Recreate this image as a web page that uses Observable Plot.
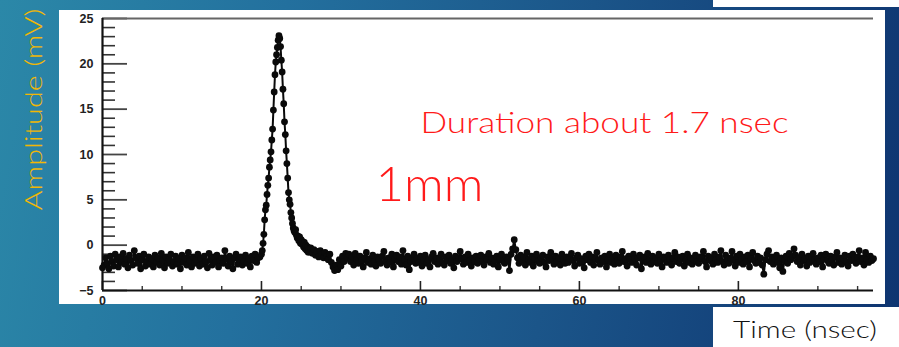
<!DOCTYPE html>
<html>
<head>
<meta charset="utf-8">
<script src="https://cdn.jsdelivr.net/npm/d3@7"></script>
<script src="https://cdn.jsdelivr.net/npm/@observablehq/plot@0.6"></script>
<style>
  html, body { margin: 0; padding: 0; }
  #wrap {
    position: relative; width: 899px; height: 347px; overflow: hidden;
    background: linear-gradient(100deg, #2b88a8 0%, #23709e 30%, #1b5589 62%, #0e3470 100%);
  }
  .box { position: absolute; background: #fff; }
  #chart { position: absolute; left: 0; top: 0; }
</style>
</head>
<body>
<div id="wrap">
  <div class="box" style="left:59px;top:10px;width:826px;height:294px"></div>
  <div class="box" style="left:713px;top:0;width:186px;height:7px"></div>
  <div class="box" style="left:713px;top:307px;width:186px;height:40px"></div>
  <div id="chart"></div>
</div>
<script>
// ---------------- data ----------------
const xTicks = [0, 20, 40, 60, 80];
const xMinor = [5, 10, 15, 25, 30, 35, 45, 50, 55, 65, 70, 75, 85, 90, 95];
const yTicks = [-5, 0, 5, 10, 15, 20, 25];
const yMinor = [-4, -3, -2, -1, 1, 2, 3, 4, 6, 7, 8, 9, 11, 12, 13, 14, 16, 17, 18, 19, 21, 22, 23, 24];
const xDomain = [0, 97];
const yDomain = [-5, 25];

// baseline before the pulse: t = 0.0 .. 19.8 ns, every 0.2 ns (mV)
const preStart = 0.0, preStep = 0.2;
const preMv = [
  -2.5,-2.2,-1.4,-2.0,-2.6,-1.2,-1.8,-2.3,-1.0,-1.6,
  -2.4,-1.3,-1.9,-0.9,-2.1,-1.5,-2.5,-1.1,-1.7,-2.2,
  -0.6,-1.4,-2.0,-1.2,-2.6,-1.6,-1.0,-2.3,-1.8,-1.3,
  -2.1,-1.5,-2.4,-1.1,-1.9,-1.4,-2.2,-0.9,-1.7,-2.5,
  -1.3,-2.0,-1.6,-1.0,-2.3,-1.8,-1.2,-2.1,-1.5,-2.6,
  -1.1,-1.9,-1.4,-2.2,-0.8,-1.7,-2.4,-1.3,-2.0,-1.6,
  -1.0,-2.3,-1.5,-2.1,-1.2,-1.8,-2.5,-0.9,-1.6,-2.2,
  -1.3,-1.9,-1.1,-2.4,-1.7,-1.4,-2.0,-0.6,-1.5,-2.3,
  -1.2,-1.8,-2.6,-1.4,-1.0,-2.1,-1.6,-1.3,-2.2,-1.8,
  -1.1,-2.0,-1.5,-2.4,-1.2,-1.7,-1.0,-1.9,-1.4,-1.3
];

// the pulse: t = 20.0 .. 26.0 ns, every 0.1 ns (mV)
const peakStart = 20.0, peakStep = 0.1;
const peakMv = [
  -1.0,-0.6, 0.2, 1.2, 2.8, 3.9, 4.4, 5.6, 6.6, 7.4,
   8.6, 9.4,10.3,11.6,12.8,14.9,16.9,18.8,20.2,21.0,
  21.8,22.6,23.1,22.8,21.9,20.4,19.1,17.2,15.6,13.6,
  12.2,10.4, 9.0, 7.4, 5.8, 5.0, 4.5, 3.6, 3.0, 2.4,
   1.9, 1.6, 1.4, 1.7, 1.1, 0.8, 1.0, 0.5, 0.9, 0.2,
   0.6, 0.1, 0.4,-0.2, 0.3,-0.4, 0.0,-0.6,-0.2,-0.8,
  -0.4
];

// baseline after the pulse: t = 26.2 .. 97.0 ns, every 0.2 ns (mV)
const postStart = 26.2, postStep = 0.2;
const postMv = [
  -0.3,-0.9,-0.5,-1.1,-0.7,-1.3,-0.6,-1.0,-1.4,-0.8,
  -1.2,-1.6,-1.0,-1.9,-2.4,-2.8,-2.2,-2.7,-1.6,-2.3,-1.2,-1.8,-0.9,-1.4,
  -1.0,-1.8,-1.3,-2.2,-0.9,-1.6,-2.0,-1.2,-1.7,-2.4,
  -1.4,-0.8,-1.9,-1.5,-2.1,-1.1,-1.8,-2.3,-1.3,-1.6,
  -2.0,-1.2,-0.7,-1.7,-2.2,-1.4,-1.9,-1.0,-2.4,-1.5,
  -1.1,-1.8,-1.3,-2.1,-0.6,-1.6,-2.2,-1.2,-2.7,-1.8,
  -1.4,-1.0,-2.0,-1.5,-1.9,-1.2,-2.3,-1.7,-1.1,-2.0,
  -1.6,-2.4,-1.3,-0.9,-1.8,-1.4,-2.1,-1.5,-1.0,-1.9,
  -2.2,-1.3,-1.7,-1.1,-2.0,-1.6,-2.5,-1.2,-1.8,-1.4,
  -0.7,-1.5,-2.1,-1.3,-1.9,-1.0,-1.7,-2.3,-1.4,-1.8,
  -1.2,-2.0,-1.5,-1.1,-1.8,-2.2,-1.3,-1.6,-0.9,-1.9,
  -1.4,-2.1,-1.7,-1.2,-2.4,-1.5,-1.0,-1.8,-2.0,-1.3,
  -1.6,-2.8,-1.0,-0.4, 0.6,-0.5,-1.4,-2.0,-1.1,-1.7,
  -1.3,-2.2,-0.8,-1.6,-1.9,-1.2,-2.3,-1.5,-1.0,-1.8,
  -2.0,-1.4,-1.1,-1.9,-2.4,-1.3,-1.7,-0.8,-1.5,-2.1,
  -1.2,-1.8,-1.4,-2.2,-1.0,-1.6,-2.0,-1.3,-1.9,-1.5,
  -0.9,-1.7,-2.3,-1.4,-1.1,-2.0,-1.5,-1.8,-2.5,-1.2,
  -1.6,-1.0,-1.9,-1.3,-2.2,-1.5,-0.8,-1.7,-2.1,-1.4,
  -1.8,-1.2,-2.4,-1.6,-1.0,-1.9,-1.4,-2.1,-1.1,-1.7,
  -2.0,-1.3,-0.7,-1.8,-1.5,-2.3,-1.2,-1.6,-1.9,-1.0,
  -1.5,-2.2,-1.4,-1.1,-2.6,-1.7,-1.3,-1.9,-0.9,-1.6,
  -2.1,-1.2,-1.8,-1.4,-2.0,-1.0,-1.7,-2.4,-1.3,-1.5,
  -1.9,-1.1,-1.6,-2.2,-1.4,-0.8,-1.8,-1.3,-2.0,-1.5,
  -1.2,-2.3,-1.7,-1.0,-1.9,-1.4,-2.1,-1.6,-1.1,-1.8,
  -2.0,-1.3,-1.5,-0.7,-1.8,-2.4,-1.2,-1.7,-1.4,-2.1,
  -1.0,-1.6,-1.9,-1.3,-0.6,-1.8,-2.2,-1.1,-1.5,-2.0,
  -1.4,-0.7,-1.7,-2.3,-1.2,-1.9,-1.0,-1.6,-2.1,-1.3,
  -1.8,-1.1,-2.4,-1.5,-0.8,-1.7,-2.0,-1.2,-1.9,-1.4,
  -2.2,-3.2,-1.6,-1.0,-0.6,-1.8,-1.3,-2.1,-1.5,-1.1,
  -1.9,-2.5,-1.4,-2.9,-1.7,-1.2,-2.0,-0.9,-1.6,-1.3,
  -0.4,-1.1,-1.8,-1.4,-2.2,-1.0,-1.7,-1.5,-2.3,-1.2,
  -1.9,-1.3,-0.9,-1.6,-2.1,-1.4,-1.8,-1.1,-2.4,-1.5,
  -1.0,-1.7,-2.0,-1.2,-1.6,-2.2,-1.3,-0.8,-1.9,-1.4,
  -2.1,-1.5,-1.1,-1.8,-2.3,-1.2,-1.7,-1.0,-1.6,-2.0,
  -1.3,-0.6,-1.8,-1.4,-2.2,-0.8,-1.6,-1.9,-1.2,-1.7,
  -1.5
];

const yLabel = "Amplitude (mV)";
const xLabel = "Time (nsec)";
const note1 = "Duration about 1.7 nsec";
const note2 = "1mm";

// ---------------- build ----------------
const seg = (start, step, vals) => vals.map((v, i) => ({t: +(start + i * step).toFixed(2), v}));
const wave = [...seg(preStart, preStep, preMv), ...seg(peakStart, peakStep, peakMv), ...seg(postStart, postStep, postMv)];

const W = 899, H = 347;
const mL = 102, mR = 26, mT = 18, mB = 57;
const frameW = W - mL - mR, frameH = H - mT - mB;
const gothic = "'Lato', 'Noto Sans', sans-serif";
const tickFont = "'Liberation Sans', Arial, sans-serif";

const chart = Plot.plot({
  width: W, height: H,
  marginLeft: mL, marginRight: mR, marginTop: mT, marginBottom: mB,
  style: {background: "transparent", color: "#000", overflow: "visible"},
  x: {domain: xDomain},
  y: {domain: yDomain},
  marks: [
    // tick marks (inward)
    Plot.tickY(yMinor, {y: d => d, insetRight: frameW - 13, stroke: "#333", strokeWidth: 1.6}),
    Plot.tickY(yTicks, {y: d => d, insetRight: frameW - 25, stroke: "#444", strokeWidth: 1.8}),
    Plot.tickX(xMinor, {x: d => d, insetTop: frameH - 4, stroke: "#333", strokeWidth: 1.4}),
    Plot.tickX(xTicks, {x: d => d, insetTop: frameH - 9, stroke: "#222", strokeWidth: 1.6}),
    // frame
    Plot.ruleY([yDomain[1]], {stroke: "#666", strokeWidth: 2.2}),
    Plot.ruleX([xDomain[0]], {stroke: "#111", strokeWidth: 2.2}),
    Plot.ruleY([yDomain[0]], {stroke: "#111", strokeWidth: 2.2}),
    // tick labels
    Plot.axisY(yTicks, {tickSize: 0, tickPadding: 9, fontSize: 12.5, fontWeight: "bold", fontFamily: tickFont, label: null, fill: "#222"}),
    Plot.axisX(xTicks, {tickSize: 0, tickPadding: 6, fontSize: 12.5, fontWeight: "bold", fontFamily: tickFont, label: null, fill: "#222"}),
    // waveform
    Plot.line(wave, {x: "t", y: "v", stroke: "#0a0a0a", strokeWidth: 2}),
    Plot.dot(wave, {x: "t", y: "v", r: 3.4, fill: "#0a0a0a", stroke: null}),
    // titles and notes
    Plot.text([yLabel], {frameAnchor: "left", text: d => d, rotate: -90, textAnchor: "middle", lineAnchor: "middle",
      dx: -68, dy: -45, fontSize: 24, fontFamily: gothic, fontWeight: 300, fill: "#f2b705", className: "ylab"}),
    Plot.text([xLabel], {frameAnchor: "bottom", text: d => d, textAnchor: "middle", lineAnchor: "middle",
      dx: 317, dy: 40, fontSize: 24, fontFamily: gothic, fontWeight: 300, fill: "#111", className: "xlab"}),
    Plot.text([note1], {frameAnchor: "top-left", text: d => d, textAnchor: "start", lineAnchor: "middle",
      dx: 318, dy: 105, fontSize: 29, fontFamily: gothic, fontWeight: 300, fill: "#ff1a1a", className: "note1"}),
    Plot.text([note2], {frameAnchor: "top-left", text: d => d, textAnchor: "start", lineAnchor: "middle",
      dx: 273, dy: 167, fontSize: 48, fontFamily: gothic, fontWeight: 300, fill: "#ff1a1a", className: "note2"})
  ]
});
// stretch annotation texts to the widths they span in the reference (wide geometric face)
const widths = {ylab: 202, xlab: 144, note1: 368, note2: 108};
for (const [cls, w] of Object.entries(widths)) {
  d3.select(chart).selectAll(`g.${cls} text`).attr("textLength", w).attr("lengthAdjust", "spacingAndGlyphs");
}
document.getElementById("chart").appendChild(chart);
</script>
</body>
</html>
